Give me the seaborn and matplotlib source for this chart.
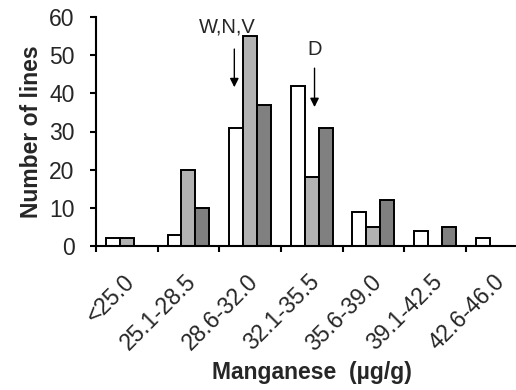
import matplotlib
matplotlib.use("Agg")
import matplotlib.pyplot as plt
import matplotlib.transforms as mtransforms
import numpy as np
import pandas as pd
import seaborn as sns

# Manganese concentration classes and the number of lines in each
categories = ["<25.0", "25.1-28.5", "28.6-32.0", "32.1-35.5",
              "35.6-39.0", "39.1-42.5", "42.6-46.0"]
series_names = ["Set 1", "Set 2", "Set 3"]
set1_counts = [2, 3, 31, 42, 9, 4, 2]
set2_counts = [2, 20, 55, 18, 5, 0, 0]
set3_counts = [0, 10, 37, 31, 12, 5, 0]
y_ticks = [0, 10, 20, 30, 40, 50, 60]
arrow_labels = ["W,N,V", "D"]

bar_colors = ["#ffffff", "#b2b2b2", "#808080"]

df = pd.DataFrame({
    "range": categories * 3,
    "set": np.repeat(series_names, len(categories)),
    "lines": set1_counts + set2_counts + set3_counts,
})

sns.set_style("ticks")
plt.rcParams["font.family"] = ["Liberation Sans", "DejaVu Sans"]

fig = plt.figure(figsize=(5.16, 3.9), dpi=100)
ax = fig.add_axes([96 / 516, 144 / 390, 431.5 / 516, 229 / 390])

sns.barplot(data=df, x="range", y="lines", hue="set", order=categories,
            hue_order=series_names, palette=bar_colors, saturation=1,
            width=0.68, gap=0, edgecolor="black", linewidth=1.4,
            legend=False, ax=ax)

ax.set_xlim(-0.5, 6.5)
ax.set_ylim(0, 60)
ax.set_yticks(y_ticks)
ax.set_xticks(range(len(categories)))
ax.set_xticklabels(categories, rotation=45, ha="right", va="top",
                   rotation_mode="anchor", fontsize=16.5)
ax.set_xticks(np.arange(-0.5, len(categories) + 0.5, 1), minor=True)
ax.tick_params(axis="x", which="major", length=0, pad=17.5)
ax.tick_params(axis="x", which="minor", length=4.5, width=1.5,
               direction="out", color="black")
ax.tick_params(axis="y", length=4.5, width=1.5, direction="out",
               pad=11, labelsize=16.5, color="black")

# nudge the slanted category labels slightly to the left
shift = mtransforms.ScaledTranslation(-4 / 100, 0, fig.dpi_scale_trans)
for lab in ax.get_xticklabels():
    lab.set_transform(lab.get_transform() + shift)

sns.despine(ax=ax)
for side in ("left", "bottom"):
    ax.spines[side].set_linewidth(1.5)
    ax.spines[side].set_color("black")

ax.set_xlabel("Manganese  (µg/g)", fontsize=16.5, fontweight="bold")
ax.set_ylabel("Number of lines", fontsize=16.5, fontweight="bold")
ax.xaxis.set_label_coords(0.5, -0.50)
ax.yaxis.set_label_coords(-0.122, 0.5)

# Arrows marking the parental values
arrow_kw = dict(arrowstyle="-|>", color="black", lw=1.0,
                mutation_scale=13, shrinkA=0, shrinkB=0)
ax.annotate("", xy=(1.744, 41.6), xytext=(1.744, 51.6), arrowprops=arrow_kw)
ax.text(1.63, 57.3, arrow_labels[0], ha="center", va="center", fontsize=14.5)
ax.annotate("", xy=(3.045, 36.4), xytext=(3.045, 46.6), arrowprops=arrow_kw)
ax.text(3.045, 51.6, arrow_labels[1], ha="center", va="center", fontsize=14.5)

fig.savefig("out.png", dpi=100)
